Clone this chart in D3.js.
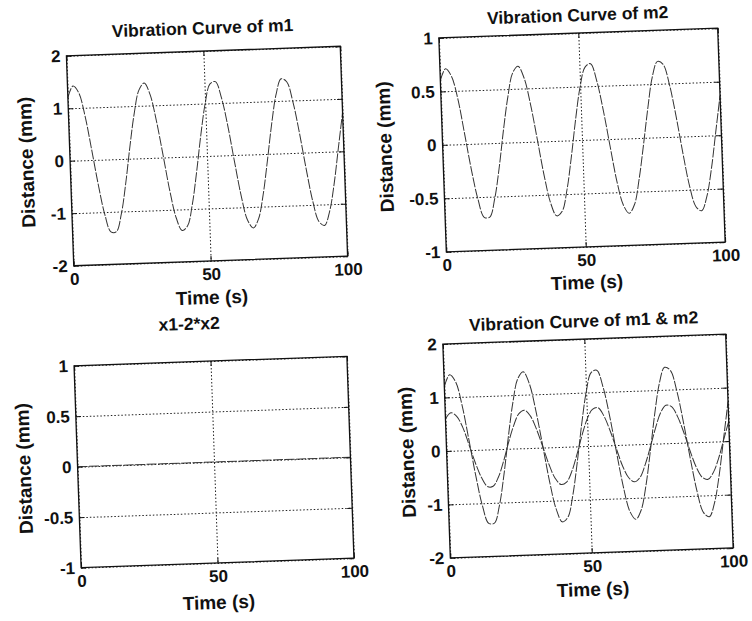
<!DOCTYPE html>
<html>
<head>
<meta charset="utf-8">
<script src="https://cdnjs.cloudflare.com/ajax/libs/d3/7.8.5/d3.min.js"></script>
<style>
  body { margin: 0; background: #fff; }
  text { font-family: "Liberation Sans", Arial, sans-serif; font-weight: bold; fill: #111; }
  .grid line { stroke: #222; stroke-dasharray: 1.5,2; stroke-width: 1; }
  .grid path { display: none; }
  .ticks path { display: none; }
  .ticks line { stroke: #111; }
  .labels path, .labels line { display: none; }
</style>
</head>
<body>
<div id="chart"></div>
<script>
// values, every 2 s
var timeValues = [0, 2, 4, 6, 8, 10, 12, 14, 16, 18, 20, 22, 24, 26, 28, 30, 32, 34, 36, 38, 40,
  42, 44, 46, 48, 50, 52, 54, 56, 58, 60, 62, 64, 66, 68, 70, 72, 74, 76, 78, 80,
  82, 84, 86, 88, 90, 92, 94, 96, 98, 100];
var m1Values = [1.20, 1.42, 1.29, 0.85, 0.20, -0.48, -1.05, -1.38, -1.38, -1.05, -0.47,
  0.23, 0.86, 1.30, 1.43, 1.21, 0.70, 0.04, -0.64, -1.16, -1.40,
  -1.32, -0.92, -0.30, 0.40, 1.00, 1.37, 1.41, 1.10, 0.55, -0.14,
  -0.79, -1.25, -1.40, -1.23, -0.77, -0.12, 0.57, 1.13, 1.42, 1.36,
  0.98, 0.38, -0.31, -0.93, -1.32, -1.40, -1.14, -0.62, 0.06, 0.74];
var m2Values = [0.60, 0.71, 0.64, 0.43, 0.10, -0.24, -0.52, -0.69, -0.69, -0.52, -0.23,
  0.12, 0.43, 0.65, 0.71, 0.60, 0.35, 0.02, -0.32, -0.58, -0.70,
  -0.66, -0.46, -0.15, 0.20, 0.50, 0.68, 0.71, 0.55, 0.27, -0.07,
  -0.40, -0.62, -0.70, -0.62, -0.38, -0.06, 0.28, 0.57, 0.71, 0.68,
  0.49, 0.19, -0.16, -0.47, -0.66, -0.70, -0.57, -0.31, 0.03, 0.37];
// x1-2*x2 sits flat on zero
var diffTime = [0, 100];
var diffValues = [0, 0];

var xTicks = [0, 50, 100];
var m1Ticks = [-2, -1, 0, 1, 2];
var m2Ticks = [-1, -0.5, 0, 0.5, 1];
var titles = ["Vibration Curve of m1", "Vibration Curve of m2", "x1-2*x2", "Vibration Curve of m1 & m2"];

var m1Series = {x: timeValues, y: m1Values};
var m2Series = {x: timeValues, y: m2Values};
var diffSeries = {x: diffTime, y: diffValues};

// the four panels were scanned separately, so each has its own box and label offsets;
// the scan is a little tilted, so every panel is turned by the same angle
var panels = [
  {title: titles[0], cx: 207, cy: 156, w: 274, h: 210, titleY: -17, titleDx: 0, timeY: 43, ylabX: -37,
    domain: [-2, 2], ticks: m1Ticks, series: [m1Series]},
  {title: titles[1], cx: 582, cy: 140, w: 279, h: 214, titleY: -12, titleDx: 0, timeY: 42, ylabX: -51,
    domain: [-1, 1], ticks: m2Ticks, series: [m2Series]},
  {title: titles[2], cx: 214, cy: 462, w: 273, h: 202, titleY: -32, titleDx: -20, timeY: 46, ylabX: -47,
    domain: [-1, 1], ticks: m2Ticks, series: [diffSeries]},
  {title: titles[3], cx: 588, cy: 446, w: 283, h: 214, titleY: -12, titleDx: 0, timeY: 43, ylabX: -33,
    domain: [-2, 2], ticks: m1Ticks, series: [m1Series, m2Series]}
];

var width = 752, height = 621;
var tilt = -2;

var svg = d3.select("#chart").append("svg")
  .attr("width", width)
  .attr("height", height);

panels.forEach(function(p){
  var w = p.w, h = p.h;
  var g = svg.append("g")
    .attr("transform", "translate(" + p.cx + "," + p.cy + ") rotate(" + tilt + ") translate(" + (-w / 2) + "," + (-h / 2) + ")");

  var x = d3.scaleLinear().domain([0, 100]).range([0, w]);
  var y = d3.scaleLinear().domain(p.domain).range([h, 0]);

  // dotted grid
  g.append("g").attr("class", "grid")
    .call(d3.axisBottom(x).tickValues(xTicks).tickSize(h).tickFormat(""));
  g.append("g").attr("class", "grid")
    .call(d3.axisLeft(y).tickValues(p.ticks).tickSize(-w).tickFormat(""));

  // curves
  var line = d3.line()
    .x(function(d) { return x(d[0]); })
    .y(function(d) { return y(d[1]); })
    .curve(d3.curveCatmullRom);
  p.series.forEach(function(s){
    g.append("path")
      .datum(d3.zip(s.x, s.y))
      .attr("d", line)
      .attr("fill", "none")
      .attr("stroke", "#333")
      .attr("stroke-width", 1)
      .attr("stroke-dasharray", "10,1.5");
  });

  // box
  g.append("rect")
    .attr("width", w).attr("height", h)
    .attr("fill", "none").attr("stroke", "#111").attr("stroke-width", 1.3);

  // inward ticks on all four sides
  g.append("g").attr("class", "ticks").attr("transform", "translate(0," + h + ")")
    .call(d3.axisBottom(x).tickValues(xTicks).tickSize(-5).tickFormat(""));
  g.append("g").attr("class", "ticks")
    .call(d3.axisTop(x).tickValues(xTicks).tickSize(-5).tickFormat(""));
  g.append("g").attr("class", "ticks")
    .call(d3.axisLeft(y).tickValues(p.ticks).tickSize(-5).tickFormat(""));
  g.append("g").attr("class", "ticks").attr("transform", "translate(" + w + ",0)")
    .call(d3.axisRight(y).tickValues(p.ticks).tickSize(-5).tickFormat(""));

  // tick labels
  g.append("g").attr("class", "labels").attr("transform", "translate(0," + h + ")")
    .call(d3.axisBottom(x).tickValues(xTicks).tickSize(0).tickPadding(7)
      .tickFormat(function(d) { return String(d); }))
    .selectAll("text").attr("font-size", 17).attr("fill", "#111");
  g.append("g").attr("class", "labels")
    .call(d3.axisLeft(y).tickValues(p.ticks).tickSize(0).tickPadding(6)
      .tickFormat(function(d) { return String(d); }))
    .selectAll("text").attr("font-size", 17).attr("fill", "#111");

  // title and axis names
  g.append("text")
    .attr("x", w / 2 + p.titleDx).attr("y", p.titleY)
    .attr("text-anchor", "middle")
    .attr("font-size", 17.5)
    .text(p.title);
  g.append("text")
    .attr("x", w / 2).attr("y", h + p.timeY)
    .attr("text-anchor", "middle")
    .attr("font-size", 19)
    .text("Time (s)");
  g.append("text")
    .attr("transform", "translate(" + p.ylabX + "," + (h / 2) + ") rotate(-90)")
    .attr("text-anchor", "middle")
    .attr("font-size", 19)
    .text("Distance (mm)");
});
</script>
</body>
</html>
